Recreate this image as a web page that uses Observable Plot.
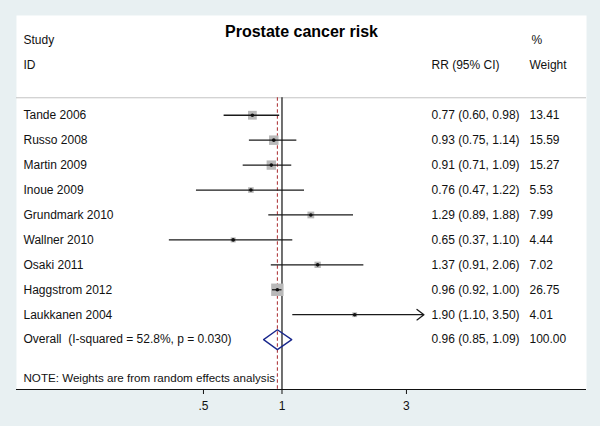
<!DOCTYPE html>
<html><head><meta charset="utf-8">
<script src="https://cdn.jsdelivr.net/npm/d3@7"></script>
<script src="https://cdn.jsdelivr.net/npm/@observablehq/plot@0.6"></script>
<style>
html,body{margin:0;padding:0;background:#e8f0f2;}
svg text{white-space:pre;}
</style></head><body><div id="chart"></div>
<script>
// ---- data ----
const studies = ["Tande 2006","Russo 2008","Martin 2009","Inoue 2009","Grundmark 2010","Wallner 2010","Osaki 2011","Haggstrom 2012","Laukkanen 2004"];
const rr     = [0.77, 0.93, 0.91, 0.76, 1.29, 0.65, 1.37, 0.96, 1.90];
const lo     = [0.60, 0.75, 0.71, 0.47, 0.89, 0.37, 0.91, 0.92, 1.10];
const hi     = [0.98, 1.14, 1.09, 1.22, 1.88, 1.10, 2.06, 1.00, 3.50];
const weight = [13.41, 15.59, 15.27, 5.53, 7.99, 4.44, 7.02, 26.75, 4.01];
const overallLabel = "Overall  (I-squared = 52.8%, p = 0.030)";
const overallRR = 0.96, overallLo = 0.85, overallHi = 1.09, overallWeight = 100.00;
const tickValues = [0.5, 1, 3];
const tickLabels = [".5", "1", "3"];
const titleText = "Prostate cancer risk";
const noteText = "NOTE: Weights are from random effects analysis";

// ---- build tables ----
const fmt = d3.format(".2f");
const rows = studies.map((s, i) => ({study: s, rr: rr[i], lo: lo[i], hi: hi[i], w: weight[i], row: i}));
const overallRow = studies.length;
const table = rows.map(d => ({label: d.study, ci: `${fmt(d.rr)} (${fmt(d.lo)}, ${fmt(d.hi)})`, wt: fmt(d.w), row: d.row}))
  .concat([{label: overallLabel, ci: `${fmt(overallRR)} (${fmt(overallLo)}, ${fmt(overallHi)})`, wt: fmt(overallWeight), row: overallRow}]);
const ticks = tickValues.map((v, i) => ({v, label: tickLabels[i]}));
const halfH = 0.4;
const diamond = [
  {x: overallLo, y: overallRow}, {x: overallRR, y: overallRow - halfH},
  {x: overallHi, y: overallRow}, {x: overallRR, y: overallRow + halfH},
  {x: overallLo, y: overallRow}
];
const arrowCut = 3;
const sepRow = -0.7, bottomRow = 11;
const font = "'Liberation Sans', Arial, Helvetica, sans-serif";
const ink = "#111";

const chart = Plot.plot({
  width: 600, height: 426,
  marginTop: 15, marginBottom: 37, marginLeft: 16, marginRight: 14,
  style: {background: "#e8f0f2", fontFamily: font, fontSize: "12px", color: ink},
  x: {type: "log", domain: [0.096, 14.7], axis: null, label: null},
  y: {domain: [-4, bottomRow], reverse: true, axis: null, label: null},
  r: {type: "sqrt", domain: [0, 26.75], range: [0, 7.0]},
  marks: [
    Plot.frame({fill: "white", stroke: null}),
    Plot.ruleY([sepRow], {stroke: "#c4c4c4", strokeWidth: 1}),
    Plot.ruleX([1], {y1: sepRow, y2: bottomRow, stroke: ink, strokeWidth: 1.2}),
    Plot.ruleX([overallRR], {y1: sepRow, y2: bottomRow, stroke: "#a8282c", strokeWidth: 1, strokeDasharray: "3.5,2.5"}),
    Plot.dot(rows, {x: "rr", y: "row", r: "w", symbol: "square", fill: "#b9b9b9", stroke: null}),
    Plot.ruleY(rows.filter(d => d.hi <= arrowCut), {y: "row", x1: "lo", x2: "hi", stroke: "#1a1a1a", strokeWidth: 1.3}),
    Plot.arrow(rows.filter(d => d.hi > arrowCut), {x1: "lo", x2: "hi", y1: "row", y2: "row", stroke: "#1a1a1a", strokeWidth: 1.3, headLength: 10, headAngle: 74}),
    Plot.dot(rows, {x: "rr", y: "row", r: 1.8, fill: ink, stroke: null}),
    Plot.line(diamond, {x: "x", y: "y", stroke: "#18268c", strokeWidth: 1.3}),
    // table texts
    Plot.text(table, {y: "row", text: "label", frameAnchor: "left", dx: 7, textAnchor: "start", fontSize: 12, fill: ink}),
    Plot.text(table, {y: "row", text: "ci", frameAnchor: "left", dx: 415, textAnchor: "start", fontSize: 12, fill: ink}),
    Plot.text(table, {y: "row", text: "wt", frameAnchor: "left", dx: 513, textAnchor: "start", fontSize: 12, fill: ink}),
    // headers
    Plot.text(["Study"], {y: -3, frameAnchor: "left", dx: 7, textAnchor: "start", fontSize: 12, fill: ink}),
    Plot.text(["ID"], {y: -2, frameAnchor: "left", dx: 7, textAnchor: "start", fontSize: 12, fill: ink}),
    Plot.text(["RR (95% CI)"], {y: -2, frameAnchor: "left", dx: 415, textAnchor: "start", fontSize: 12, fill: ink}),
    Plot.text(["%"], {y: -3, frameAnchor: "left", dx: 515, textAnchor: "start", fontSize: 12, fill: ink}),
    Plot.text(["Weight"], {y: -2, frameAnchor: "left", dx: 513, textAnchor: "start", fontSize: 12, fill: ink}),
    Plot.text([noteText], {y: 10.55, frameAnchor: "left", dx: 7, textAnchor: "start", fontSize: 11.6, fill: ink}),
    Plot.text([titleText], {frameAnchor: "top", dy: 16, lineAnchor: "middle", fontSize: 16, fontWeight: "bold", fill: "#000"}),
    // axis
    Plot.ruleY([bottomRow], {stroke: ink, strokeWidth: 1.2}),
    Plot.ruleX(ticks, {x: "v", y1: bottomRow, y2: bottomRow, insetBottom: -5, stroke: ink, strokeWidth: 1}),
    Plot.text(ticks, {x: "v", text: "label", frameAnchor: "bottom", dy: 16.5, lineAnchor: "middle", fontSize: 12, fill: ink})
  ]
});
document.getElementById("chart").appendChild(chart);
</script></body></html>
